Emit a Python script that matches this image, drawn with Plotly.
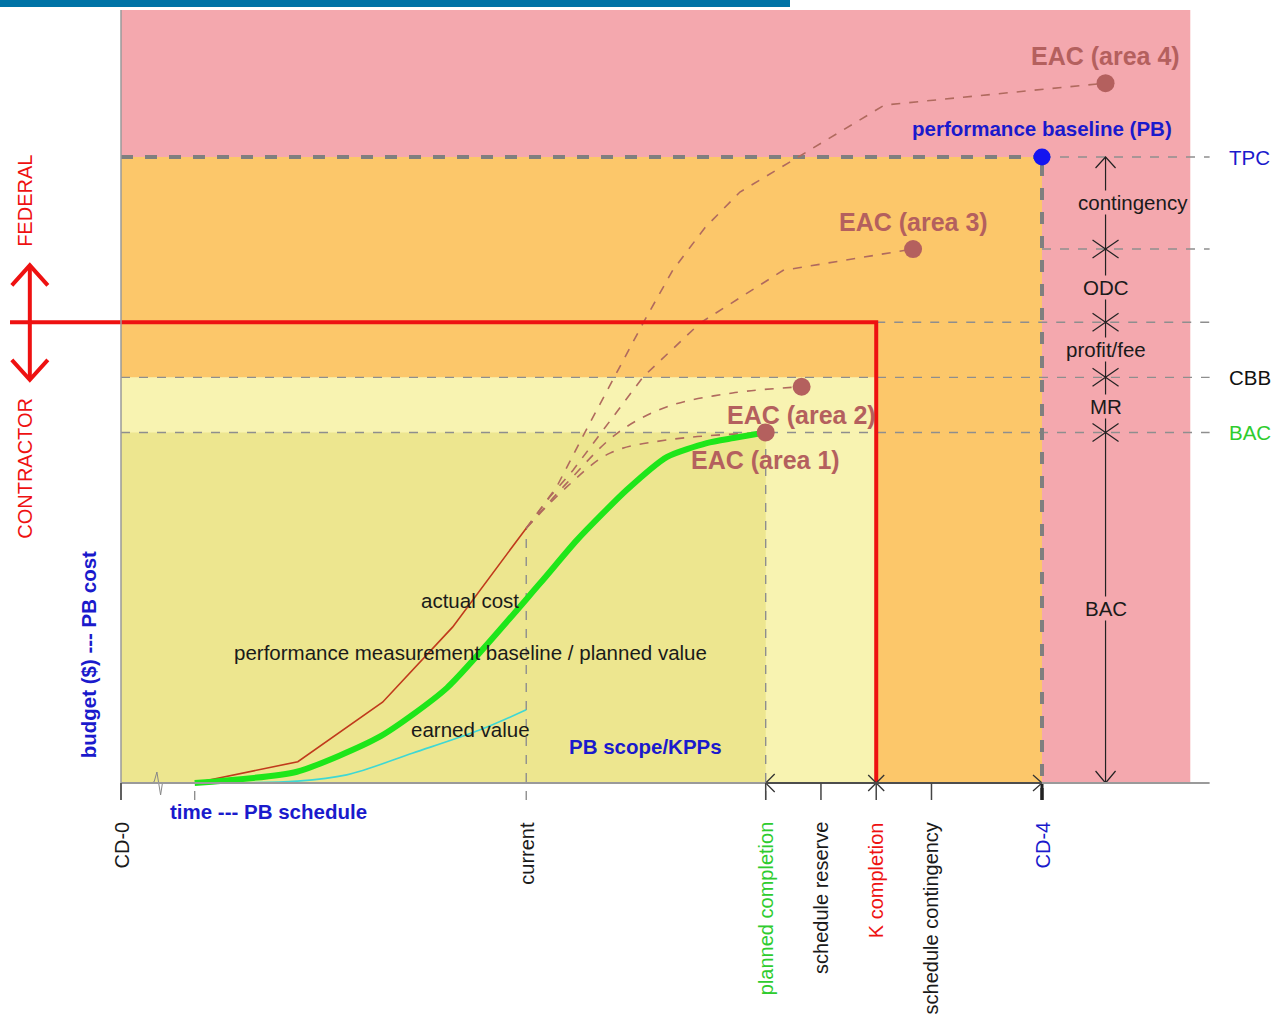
import plotly.graph_objects as go

# ---------------- data ----------------
# schedule milestones (time units, CD-0 = 0)
milestone_labels = ["CD-0", "current", "planned completion", "schedule reserve",
                    "K completion", "schedule contingency", "CD-4"]
milestone_times = [0, 44, 70, 76, 82, 88, 100]
curve_start = 8

# budget levels (cost units, TPC = 100)
level_labels = ["BAC", "CBB", "profit/fee", "ODC", "TPC"]
level_values = [56.0, 64.8, 73.6, 85.3, 100.0]

# performance measurement baseline / planned value
pmb_time = [8, 19.1, 28.1, 35.4, 45.5, 49.5, 54.9, 59.3, 63.6, 66.5, 70]
pmb_cost = [0, 1.8, 7.4, 15.2, 31.9, 38.8, 46.8, 52.1, 54.3, 55.1, 56]

# actual cost to date
ac_time = [8, 19.2, 28.4, 36.0, 44]
ac_cost = [0, 3.4, 12.9, 24.9, 40.7]

# earned value to date
ev_time = [8, 19.1, 24.5, 31.7, 39.0, 44]
ev_cost = [0, 0.3, 1.3, 4.8, 8.5, 11.7]

# estimate-at-completion projections
eac_labels = ["EAC (area 1)", "EAC (area 2)", "EAC (area 3)", "EAC (area 4)"]
eac_time = [
    [44, 48.4, 53.1, 59.3, 70],
    [44, 48.4, 53.9, 59.3, 66.4, 73.9],
    [44, 46.5, 49.1, 52.9, 56.7, 62.9, 71.9, 86.0],
    [44, 47.3, 50.4, 53.4, 56.7, 59.9, 63.4, 67.2, 82.9, 106.9],
]
eac_cost = [
    [40.7, 47.3, 52.7, 54.8, 56],
    [40.7, 47.9, 55.9, 60.1, 62.3, 63.3],
    [40.7, 45.6, 50.0, 57.5, 64.9, 73.5, 81.9, 85.3],
    [40.7, 47.3, 56.1, 64.4, 73.5, 81.9, 88.7, 94.4, 108.3, 111.8],
]
eac_shape = ["spline", "spline", "linear", "linear"]

# ---------------- geometry / style ----------------
W, H = 1275, 1016
SX, SY = 9.21, 6.26          # pixels per time unit / per cost unit
OX, OY = 121, 783            # pixel position of the origin
x_range = [-OX / SX, (W - OX) / SX]
y_range = [-(H - OY) / SY, OY / SY]

t = dict(zip(milestone_labels, milestone_times))
v = dict(zip(level_labels, level_values))
BAC, CBB, CONTRACT, ODC_TOP, TPC = (v["BAC"], v["CBB"], v["profit/fee"], v["ODC"], v["TPC"])
CUR, PLAN, RES, KC, SCON, CD4 = (t["current"], t["planned completion"], t["schedule reserve"],
                                  t["K completion"], t["schedule contingency"], t["CD-4"])

zone_right, zone_top = 116.1, 123.5
guide_right = 118.2
tick_low = -17 / SY
dim_x = 106.9
fed_x = -9.9
red_left = -12.05

PINK, ORANGE, LIGHT, KHAKI = "#F4A8AE", "#FCC76A", "#F8F3B1", "#EDE68F"
GREY = "#8E8E8E"
EAC_C = "#B4605E"
BLUE = "#1A1ACC"
RED = "#EE1111"
GREEN_TXT = "#2ECC2E"

FONT = "Liberation Sans, Arial, sans-serif"
FS = 20.5


def dx(px):
    return px / SX


def dy(px):
    return px / SY


def xmarks(points, hx, hy):
    xs, ys = [], []
    for x, y in points:
        xs += [x - dx(hx), x + dx(hx), None, x - dx(hx), x + dx(hx), None]
        ys += [y - dy(hy), y + dy(hy), None, y + dy(hy), y - dy(hy), None]
    return xs, ys


def chevron(x, y, direction, hx, hy):
    if direction == "up":
        return [x - dx(hx), x, x + dx(hx), None], [y - dy(hy), y, y - dy(hy), None]
    if direction == "down":
        return [x - dx(hx), x, x + dx(hx), None], [y + dy(hy), y, y + dy(hy), None]
    if direction == "left":
        return [x + dx(hx), x, x + dx(hx), None], [y + dy(hy), y, y - dy(hy), None]
    return [x - dx(hx), x, x - dx(hx), None], [y + dy(hy), y, y - dy(hy), None]


fig = go.Figure()
shapes = []

# coloured responsibility zones
shapes += [
    dict(type="rect", x0=0, x1=zone_right, y0=0, y1=zone_top, fillcolor=PINK, line_width=0, layer="below"),
    dict(type="rect", x0=0, x1=CD4, y0=0, y1=TPC, fillcolor=ORANGE, line_width=0, layer="below"),
    dict(type="rect", x0=0, x1=KC, y0=0, y1=CBB, fillcolor=LIGHT, line_width=0, layer="below"),
    dict(type="rect", x0=0, x1=PLAN, y0=0, y1=BAC, fillcolor=KHAKI, line_width=0, layer="below"),
]

# header band
shapes.append(dict(type="rect", xref="paper", yref="paper", x0=0, x1=790 / W,
                   y0=1 - 7 / H, y1=1, fillcolor="#0073A6", line_width=0))

# budget guide lines
thin = dict(color=GREY, width=1.4, dash="dash")
shapes += [
    dict(type="line", x0=0, x1=guide_right, y0=BAC, y1=BAC, line=thin, layer="below"),
    dict(type="line", x0=0, x1=guide_right, y0=CBB, y1=CBB, line=thin, layer="below"),
    dict(type="line", x0=KC, x1=guide_right, y0=CONTRACT, y1=CONTRACT, line=thin, layer="below"),
    dict(type="line", x0=CD4, x1=guide_right, y0=ODC_TOP, y1=ODC_TOP, line=thin, layer="below"),
    dict(type="line", x0=CD4, x1=guide_right, y0=TPC, y1=TPC, line=thin, layer="below"),
    dict(type="line", x0=0, x1=CD4, y0=TPC, y1=TPC,
         line=dict(color="#7F7F7F", width=4, dash="dash"), layer="below"),
    dict(type="line", x0=CD4, x1=CD4, y0=tick_low, y1=TPC,
         line=dict(color="#7F7F7F", width=4, dash="dash"), layer="below"),
]

# time guide lines
shapes += [
    dict(type="line", x0=CUR, x1=CUR, y0=tick_low, y1=ac_cost[-1], line=thin, layer="below"),
    dict(type="line", x0=PLAN, x1=PLAN, y0=tick_low, y1=BAC, line=thin, layer="below"),
    dict(type="line", x0=curve_start, x1=curve_start, y0=tick_low, y1=0, line=thin, layer="below"),
]

# axes
shapes += [
    dict(type="line", x0=0, x1=guide_right, y0=0, y1=0, line=dict(color="#9A9A9A", width=2)),
    dict(type="line", x0=PLAN, x1=CD4, y0=0, y1=0, line=dict(color="#333333", width=1.5)),
    dict(type="line", x0=0, x1=0, y0=tick_low, y1=zone_top, line=dict(color="#9A9A9A", width=1.5)),
]
for m in milestone_times:
    if m in (CUR, CD4):
        continue
    shapes.append(dict(type="line", x0=m, x1=m, y0=tick_low, y1=0,
                       line=dict(color="#444444", width=1.5)))

# axis break symbol
fig.add_trace(go.Scatter(x=[3.3, 3.6, 3.9, 4.3, 4.5], y=[0, 0.2, dy(11), -dy(12), 0],
                         mode="lines", line=dict(color="#888888", width=1), hoverinfo="skip"))

# earned value
fig.add_trace(go.Scatter(x=ev_time, y=ev_cost, mode="lines", line_shape="spline",
                         line=dict(color="#3ED8D4", width=1.6), hoverinfo="skip"))
# actual cost
fig.add_trace(go.Scatter(x=ac_time, y=ac_cost, mode="lines",
                         line=dict(color="#C03A1C", width=1.6), hoverinfo="skip"))
# EAC projections
for et, ec, shp in zip(eac_time, eac_cost, eac_shape):
    fig.add_trace(go.Scatter(x=et, y=ec, mode="lines", line_shape=shp,
                             line=dict(color="#B06A5E", width=1.6, dash="dash"), hoverinfo="skip"))
# performance measurement baseline
fig.add_trace(go.Scatter(x=pmb_time, y=pmb_cost, mode="lines", line_shape="spline",
                         line=dict(color="#1EE61A", width=6, smoothing=0.6), hoverinfo="skip"))

# federal / contractor split
fig.add_trace(go.Scatter(x=[red_left, KC, KC], y=[CONTRACT, CONTRACT, 0], mode="lines",
                         line=dict(color=RED, width=4), hoverinfo="skip"))
ax_top, ax_bot = 82.7, 64.4
cx1, cy1 = chevron(fed_x, ax_top, "up", 18, 20)
cx2, cy2 = chevron(fed_x, ax_bot, "down", 18, 20)
fig.add_trace(go.Scatter(x=[fed_x, fed_x, None] + cx1 + cx2, y=[ax_bot, ax_top, None] + cy1 + cy2,
                         mode="lines", line=dict(color=RED, width=4), hoverinfo="skip"))

# budget dimension line
dxs, dys = xmarks([(dim_x, lv) for lv in level_values[:4]], 13, 9)
ux, uy = chevron(dim_x, TPC, "up", 10, 11)
lx, ly = chevron(dim_x, 0, "down", 10, 12)
fig.add_trace(go.Scatter(x=[dim_x, dim_x, None] + dxs + ux + lx, y=[0, TPC, None] + dys + uy + ly,
                         mode="lines", line=dict(color="#222222", width=1.2), hoverinfo="skip"))

# schedule dimension marks
sx1, sy1 = chevron(PLAN, 0, "left", 9, 9)
sx2, sy2 = chevron(CD4, 0, "right", 9, 8)
kx, ky = xmarks([(KC, 0)], 8, 8)
fig.add_trace(go.Scatter(x=sx1 + sx2 + kx, y=sy1 + sy2 + ky, mode="lines",
                         line=dict(color="#333333", width=1.3), hoverinfo="skip"))
fig.add_trace(go.Scatter(x=[CD4, CD4], y=[0, tick_low], mode="lines",
                         line=dict(color="#222222", width=3), hoverinfo="skip"))

# EAC end points
fig.add_trace(go.Scatter(x=[et[-1] for et in eac_time], y=[ec[-1] for ec in eac_cost],
                         mode="markers", marker=dict(color=EAC_C, size=18), hoverinfo="skip"))
# performance baseline point
fig.add_trace(go.Scatter(x=[CD4], y=[TPC], mode="markers",
                         marker=dict(color="#1414F0", size=17), hoverinfo="skip"))

ann = []


def label(text, x, y, color="#1A1A1A", size=FS, **kw):
    d = dict(text=text, x=x, y=y, showarrow=False, font=dict(color=color, size=size, family=FONT))
    d.update(kw)
    ann.append(d)


# EAC labels
eac_yshift = [-28, -28, 27, 27]
for lab, et, ec, ys_ in zip(eac_labels, eac_time, eac_cost, eac_yshift):
    label("<b>%s</b>" % lab, et[-1], ec[-1], color=EAC_C, size=25, yshift=ys_)

label("<b>performance baseline (PB)</b>", CD4, TPC, color=BLUE, size=20.5, yshift=29)

# right-hand level names
label("TPC", 120.1, TPC, color=BLUE, xanchor="left")
label("CBB", 120.1, CBB, color="#111111", xanchor="left")
label("BAC", 120.1, BAC, color=GREEN_TXT, xanchor="left")

# dimension labels
dim_labels = [("contingency", 109.9, 92.7), ("ODC", dim_x, 79.2), ("profit/fee", dim_x, 69.3),
              ("MR", dim_x, 60.2), ("BAC", dim_x, 27.8)]
for txt, xx, yy in dim_labels:
    label(txt, xx, yy, bgcolor=PINK, borderpad=0)

# curve labels
label("actual cost", 37.9, 29.2)
label("performance measurement baseline / planned value", 37.9, 20.8)
label("earned value", 37.9, 8.6)
label("<b>PB scope/KPPs</b>", 57.0, 5.9, color=BLUE)
label("<b>time --- PB schedule</b>", 16.0, -4.6, color=BLUE)
label("<b>budget ($) --- PB cost</b>", -3.58, 20.4, color=BLUE, textangle=-90)
label("FEDERAL", -10.42, 93.0, color=RED, textangle=-90, size=20)
label("CONTRACTOR", -10.42, 50.2, color=RED, textangle=-90, size=20)

# milestone names under the time axis
ms_colors = ["#1A1A1A", "#1A1A1A", GREEN_TXT, "#1A1A1A", RED, "#1A1A1A", BLUE]
for name, mt, col in zip(milestone_labels, milestone_times, ms_colors):
    label(name, mt, -37 / SY, color=col, textangle=-90, yanchor="top", size=20)

fig.update_layout(
    width=W, height=H, margin=dict(l=0, r=0, t=0, b=0),
    paper_bgcolor="white", plot_bgcolor="white", showlegend=False,
    xaxis=dict(range=x_range, visible=False, fixedrange=True),
    yaxis=dict(range=y_range, visible=False, fixedrange=True),
    shapes=shapes, annotations=ann,
)

fig.write_html("out.html")
